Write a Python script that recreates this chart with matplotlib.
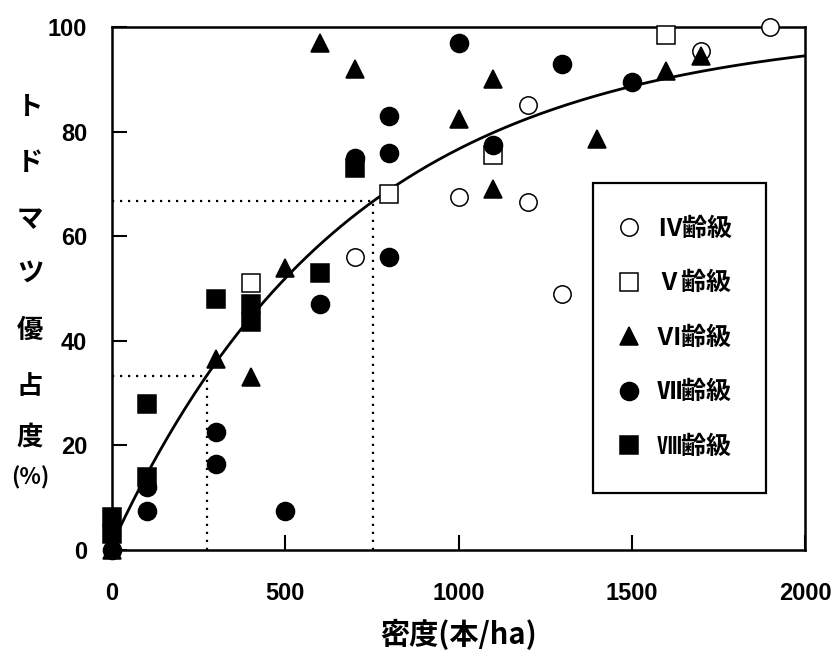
import numpy as np
import matplotlib
matplotlib.use("Agg")
import matplotlib.pyplot as plt
from matplotlib.lines import Line2D

plt.rcParams['font.family'] = ['Noto Sans CJK JP', 'DejaVu Sans']

# ---- data ----
iv_x = [700, 1000, 1200, 1200, 1300, 1700, 1900]
iv_y = [56, 67.5, 85, 66.5, 49, 95.5, 100]

v_x = [400, 800, 1100, 1600]
v_y = [51, 68, 75.5, 98.5]

vi_x = [0, 300, 400, 500, 600, 700, 1000, 1100, 1100, 1400, 1600, 1700]
vi_y = [0, 36.5, 33, 54, 97, 92, 82.5, 90, 69, 78.5, 91.5, 94.5]

vii_x = [0, 100, 100, 300, 300, 500, 600, 700, 800, 800, 800, 1000, 1100, 1300, 1500]
vii_y = [0, 12, 7.5, 22.5, 16.5, 7.5, 47, 75, 83, 76, 56, 97, 77.5, 93, 89.5]

viii_x = [0, 0, 100, 100, 300, 400, 400, 600, 700]
viii_y = [6.3, 3, 28, 14, 48, 47, 43.5, 53, 73]

labels = ["Ⅳ齢級", "Ⅴ齢級", "Ⅵ齢級", "Ⅶ齢級", "Ⅷ齢級"]

# fitted curve parameters: y = 100*(1 - exp(-k*(x + x0)))
fit_k = 0.001444
fit_x0 = 7.6
curve_xrange = (14, 2000)

# reference guide lines (density giving 1/3 and 2/3 dominance)
guide_x = [273, 753]
guide_y = [33.3, 66.7]

xticks = [0, 500, 1000, 1500, 2000]
yticks = [0, 20, 40, 60, 80, 100]

# ---- figure ----
W, H = 833, 653
fig = plt.figure(figsize=(W / 100, H / 100), dpi=100)
ax = fig.add_axes([112 / W, 1 - 550 / H, (805 - 112) / W, (550 - 27) / H])
ax.set_xlim(0, 2000)
ax.set_ylim(0, 100)

for s in ax.spines.values():
    s.set_linewidth(1.8)

# fitted curve
cx = np.linspace(curve_xrange[0], curve_xrange[1], 400)
cy = 100 * (1 - np.exp(-fit_k * (cx + fit_x0)))
ax.plot(cx, cy, color='black', lw=2.0, zorder=2)

# dotted guides
for gx, gy in zip(guide_x, guide_y):
    ax.plot([0, gx], [gy, gy], color='black', lw=1.6, ls=(0, (1, 2.6)), zorder=1)
    ax.plot([gx, gx], [0, gy], color='black', lw=1.6, ls=(0, (1, 2.6)), zorder=1)

ms = 13
series = [
    (iv_x, iv_y, 'o', 'white', 12.5),
    (v_x, v_y, 's', 'white', 12.5),
    (vi_x, vi_y, '^', 'black', ms),
    (vii_x, vii_y, 'o', 'black', ms),
    (viii_x, viii_y, 's', 'black', ms),
]
handles = []
for i, (x, y, m, fc, size) in enumerate(series):
    ax.plot(x, y, ls='none', marker=m, markersize=size, markerfacecolor=fc,
            markeredgecolor='black', markeredgewidth=1.1, clip_on=False, zorder=3 + i)
    handles.append(Line2D([], [], ls='none', marker=m, markersize=size,
                          markerfacecolor=fc, markeredgecolor='black',
                          markeredgewidth=1.1))

# ticks
tick_font = ['Liberation Sans', 'DejaVu Sans']
ax.set_xticks(xticks)
ax.set_yticks(yticks)
ax.set_xticklabels([str(t) for t in xticks], family=tick_font, fontsize=17,
                   fontweight='bold')
ax.set_yticklabels([str(t) for t in yticks], family=tick_font, fontsize=17,
                   fontweight='bold')
ax.tick_params(axis='both', direction='in', length=11, width=1.5)
ax.tick_params(axis='x', pad=23)
ax.tick_params(axis='y', pad=18)

# axis labels
ax.set_xlabel("密度(本/ha)", fontsize=21, fontweight='bold', labelpad=10)
ychars = ["ト", "ド", "マ", "ツ", "優", "占", "度"]
ypos = [107, 163, 220, 273, 330, 387, 437]
for ch, yp in zip(ychars, ypos):
    fig.text(30 / W, 1 - yp / H, ch, fontsize=19, fontweight='bold',
             ha='center', va='center')
fig.text(30 / W, 1 - 478 / H, "(%)", fontsize=16, fontweight='bold',
         ha='center', va='center')

# legend
leg = ax.legend(handles, labels, loc='upper left',
                bbox_to_anchor=(593 / W, 1 - 183 / H), bbox_transform=fig.transFigure,
                borderaxespad=0, labelspacing=1.22, handletextpad=1.0,
                borderpad=1.35, handlelength=0.2, fancybox=False, framealpha=1,
                edgecolor='black', prop={'size': 18, 'weight': 'bold'})
leg.get_frame().set_linewidth(1.6)

fig.savefig("out.png", dpi=100, facecolor='white')
